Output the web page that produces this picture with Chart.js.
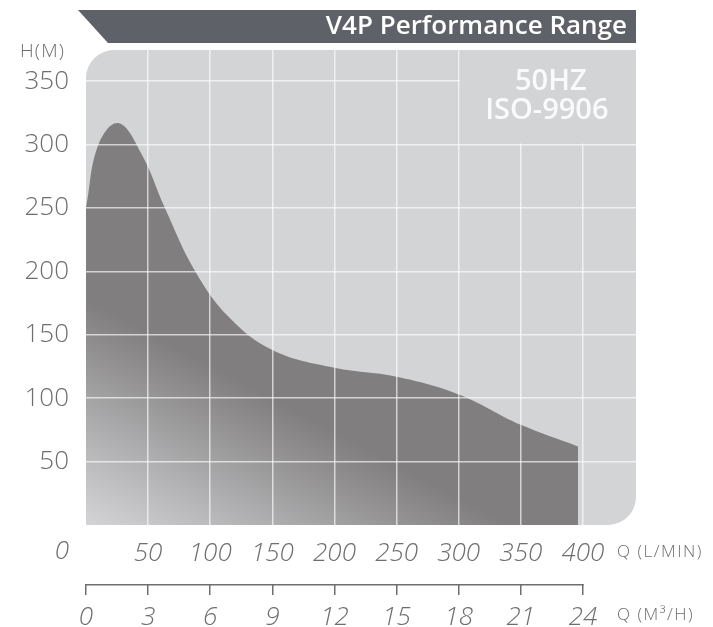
<!DOCTYPE html>
<html lang="en">
<head>
<meta charset="UTF-8">
<title>V4P Performance Range</title>
<script src="https://cdn.jsdelivr.net/npm/chart.js"></script>
<style>
    html, body { margin: 0; padding: 0; background: #fff; }
    canvas { display: block; }
</style>
</head>
<body>
<canvas id="perfChart" width="713" height="627"></canvas>
<script>
// Envelope of the V4P range: flow (L/min) vs head (m)
const flowLpm = [0, 10, 26, 45, 63.5, 88, 115, 150, 200, 250, 300, 350, 396];
const headM   = [250, 300, 317, 292, 250, 200, 164, 138, 124, 117, 103, 79, 62];

// tick labels
const lpmTicks  = [50, 100, 150, 200, 250, 300, 350, 400];
const m3hTicks  = [0, 3, 6, 9, 12, 15, 18, 21, 24];
const headTicks = [50, 100, 150, 200, 250, 300, 350];

const LPM_PER_M3H = 1000 / 60;
const xMax = 442.7;   // grey panel runs a bit past 400 L/min
const yMax = 374.6;

const FONT = '"Open Sans", "DejaVu Sans", sans-serif';
const labelColor = '#6e6e6e';
const gridColor = 'rgba(255,255,255,0.65)';
const panelColor = '#d3d4d6';

function roundedPanel(ctx, a, r) {
    ctx.beginPath();
    ctx.moveTo(a.left + r, a.top);
    ctx.lineTo(a.right, a.top);
    ctx.lineTo(a.right, a.bottom - r);
    ctx.arcTo(a.right, a.bottom, a.right - r, a.bottom, r);
    ctx.lineTo(a.left, a.bottom);
    ctx.lineTo(a.left, a.top + r);
    ctx.arcTo(a.left, a.top, a.left + r, a.top, r);
    ctx.closePath();
}

const decorPlugin = {
    id: 'decor',
    beforeDraw(chart) {
        const ctx = chart.ctx;
        const a = chart.chartArea;
        ctx.save();
        // title band
        ctx.fillStyle = '#5e6167';
        ctx.beginPath();
        ctx.moveTo(a.left - 8, 10);
        ctx.lineTo(a.right, 10);
        ctx.lineTo(a.right, 43);
        ctx.lineTo(a.left + 22, 43);
        ctx.closePath();
        ctx.fill();
        ctx.fillStyle = '#ffffff';
        ctx.font = '600 26px ' + FONT;
        ctx.textAlign = 'right';
        ctx.textBaseline = 'middle';
        ctx.fillText('V4P Performance Range', a.right - 9, 27);

        // axis name
        ctx.fillStyle = labelColor;
        ctx.font = '300 19px ' + FONT;
        ctx.letterSpacing = '1.2px';
        ctx.textAlign = 'left';
        ctx.fillText('H(M)', 20, 52);
        ctx.letterSpacing = '0px';

        // plot panel
        ctx.fillStyle = panelColor;
        roundedPanel(ctx, a, 28);
        ctx.fill();
        ctx.restore();
    },
    afterDraw(chart) {
        const ctx = chart.ctx;
        const a = chart.chartArea;
        const x = chart.scales.x, y = chart.scales.y, x2 = chart.scales.x2;
        ctx.save();

        // blank box for the rating text
        const bx = x.getPixelForValue(300) + 1;
        const by = y.getPixelForValue(300) - 1;
        ctx.fillStyle = panelColor;
        ctx.fillRect(bx, a.top, a.right - bx, by - a.top);
        ctx.fillStyle = 'rgba(255,255,255,0.88)';
        ctx.font = '600 29px ' + FONT;
        ctx.textAlign = 'center';
        ctx.textBaseline = 'middle';
        const cx = (bx + a.right) / 2;
        ctx.fillText('50HZ', cx + 3, a.top + 32);
        ctx.fillText('ISO-9906', cx - 1, a.top + 61);

        // zero on the L/min row sits out by the head labels
        ctx.fillStyle = labelColor;
        ctx.font = 'italic 350 26px ' + FONT;
        ctx.fillText('0', x.getPixelForValue(0) - 24, a.bottom + 27);

        // unit labels
        ctx.font = '300 17px ' + FONT;
        ctx.letterSpacing = '1.5px';
        ctx.textAlign = 'left';
        ctx.fillText('Q (L/MIN)', a.right - 19, a.bottom + 27);
        ctx.fillText('Q (M\u00B3/H)', a.right - 19, x2.top + 31);
        ctx.letterSpacing = '0px';

        // second axis line, 0..24 only
        ctx.strokeStyle = '#6e6e6e';
        ctx.lineWidth = 1.5;
        ctx.beginPath();
        ctx.moveTo(x2.getPixelForValue(0) - 0.75, x2.top + 0.75);
        ctx.lineTo(x2.getPixelForValue(24) + 0.75, x2.top + 0.75);
        ctx.stroke();
        ctx.restore();
    }
};

new Chart(document.getElementById('perfChart'), {
    type: 'line',
    data: {
        datasets: [{
            data: flowLpm.map((q, i) => ({ x: q, y: headM[i] })),
            fill: 'origin',
            borderWidth: 0,
            borderColor: 'rgba(0,0,0,0)',
            pointRadius: 0,
            tension: 0.4,
            backgroundColor: function(context) {
                const { ctx, chartArea } = context.chart;
                if (!chartArea) return '#807e7f';
                const g = ctx.createLinearGradient(chartArea.left, chartArea.bottom,
                    chartArea.left + 94, chartArea.bottom - 176);
                g.addColorStop(0, '#d4d4d6');
                g.addColorStop(1, '#807e7f');
                return g;
            }
        }]
    },
    options: {
        responsive: false,
        animation: false,
        devicePixelRatio: 1,
        layout: { padding: { top: 50, right: 77, left: 0, bottom: 0 } },
        plugins: {
            legend: { display: false },
            tooltip: { enabled: false }
        },
        scales: {
            x: {
                type: 'linear',
                position: 'bottom',
                weight: 0,
                min: 0,
                max: xMax,
                afterBuildTicks: s => { s.ticks = lpmTicks.map(v => ({ value: v })); },
                afterFit: s => { s.height = 59; },
                grid: { color: gridColor, lineWidth: 1.5, drawTicks: false, z: 1 },
                border: { display: false },
                ticks: {
                    padding: 13,
                    autoSkip: false,
                    maxRotation: 0,
                    color: labelColor,
                    font: { family: FONT, size: 26, style: 'italic', weight: 350 }
                }
            },
            x2: {
                type: 'linear',
                position: 'bottom',
                weight: 1,
                min: 0,
                max: xMax / LPM_PER_M3H,
                afterBuildTicks: s => { s.ticks = m3hTicks.map(v => ({ value: v })); },
                afterFit: s => { s.height = 43; },
                grid: { drawOnChartArea: false, drawTicks: true, tickLength: 11, color: '#6e6e6e', lineWidth: 1.5 },
                border: { display: false },
                ticks: {
                    padding: 7,
                    autoSkip: false,
                    maxRotation: 0,
                    color: labelColor,
                    font: { family: FONT, size: 26, style: 'italic', weight: 350 }
                }
            },
            y: {
                min: 0,
                max: yMax,
                afterBuildTicks: s => { s.ticks = headTicks.map(v => ({ value: v })); },
                afterFit: s => { s.width = 86; },
                grid: { color: gridColor, lineWidth: 1.5, drawTicks: false, z: 1 },
                border: { display: false },
                ticks: {
                    padding: 17,
                    color: labelColor,
                    font: { family: FONT, size: 26, weight: 350 }
                }
            }
        }
    },
    plugins: [decorPlugin]
});
</script>
</body>
</html>
